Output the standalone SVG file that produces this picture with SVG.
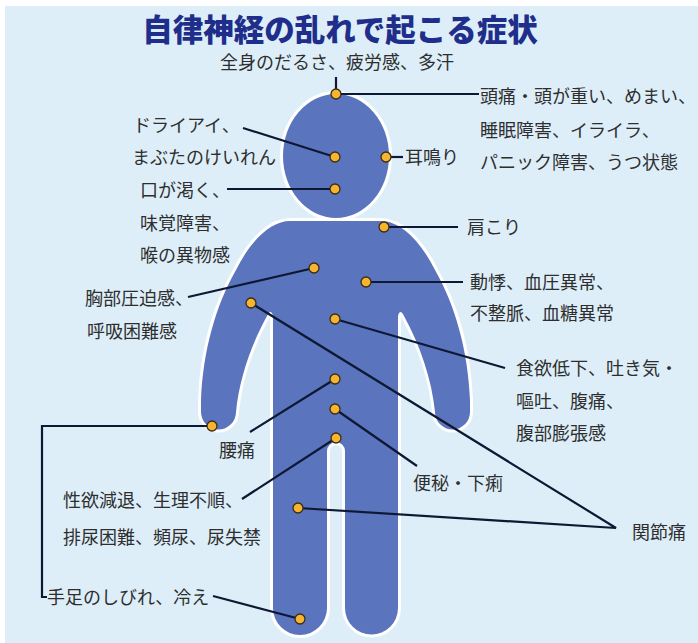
<svg xmlns="http://www.w3.org/2000/svg" width="698" height="643" viewBox="0 0 698 643">
  <style>
    .bg { fill: #ddeef9; }
    .body { fill: #5a74be; stroke: #ffffff; stroke-width: 6; paint-order: stroke; stroke-linejoin: round; }
    .title { font-family: "Noto Sans CJK JP", "Noto Sans", sans-serif; font-size: 30.5px; font-weight: 900; fill: #1f2e8a; }
    .lbl { font-family: "Noto Sans CJK JP", "Noto Sans", sans-serif; font-size: 18px; fill: #2e2e2e; }
    .con { fill: none; stroke: #0e1833; stroke-width: 2.2; stroke-linejoin: miter; }
    .dot { fill: #f6b531; stroke: #3b2c12; stroke-width: 1.3; }
  </style>

  <rect x="0" y="0" width="698" height="643" fill="#ffffff"/>
  <rect class="bg" x="5" y="6" width="693" height="637"/>

  <text class="title" x="340" y="41" text-anchor="middle">自律神経の乱れで起こる症状</text>

  <!-- human silhouette -->
  <g id="figure">
    <path id="torso" class="body" d="M 290,221 L 381,221 C 400,221 420,240 435,270 C 455,305 468,350 470,400 L 470,412 A 17.5,17.5 0 0 1 435,412 C 432,380 420,345 404,316 Q 400,308 398,316 L 398,608 A 26.5,26.5 0 0 1 345,608 L 345,451 A 9,9 0 0 0 327,451 L 327,608 A 27,27 0 0 1 273,608 L 273,316 Q 271,308 267,316 C 251,345 239,380 236,412 A 17.5,17.5 0 0 1 201,412 L 201,400 C 203,350 216,305 236,270 C 251,240 271,221 290,221 Z"/>
    <ellipse id="head" class="body" cx="336" cy="156" rx="53" ry="62"/>
  </g>

  <!-- leader lines -->
  <g id="connectors">
    <path class="con" d="M 336,94 L 336,77"/>
    <path class="con" d="M 336,94 L 479,94"/>
    <path class="con" d="M 335,157 L 243,128"/>
    <path class="con" d="M 386,157 L 403,157"/>
    <path class="con" d="M 335,189 L 227,189"/>
    <path class="con" d="M 384,227 L 458,227"/>
    <path class="con" d="M 314,268 L 188,297"/>
    <path class="con" d="M 366,282 L 463,282"/>
    <path class="con" d="M 335,319 L 505,368"/>
    <path class="con" d="M 251,303 L 616,528 L 298,508"/>
    <path class="con" d="M 335,379 L 250,432"/>
    <path class="con" d="M 335,409 L 417,466"/>
    <path class="con" d="M 336,438 L 242,499"/>
    <path class="con" d="M 212,426 L 42,426 L 42,597 L 47,597"/>
    <path class="con" d="M 213,596 L 300,619"/>
  </g>

  <!-- symptom markers -->
  <g id="markers">
    <circle class="dot" cx="336" cy="94" r="5"/>
    <circle class="dot" cx="335" cy="157" r="5"/>
    <circle class="dot" cx="386" cy="157" r="5"/>
    <circle class="dot" cx="335" cy="189" r="5"/>
    <circle class="dot" cx="384" cy="227" r="5"/>
    <circle class="dot" cx="314" cy="268" r="5"/>
    <circle class="dot" cx="366" cy="282" r="5"/>
    <circle class="dot" cx="251" cy="303" r="5"/>
    <circle class="dot" cx="335" cy="319" r="5"/>
    <circle class="dot" cx="335" cy="379" r="5"/>
    <circle class="dot" cx="335" cy="409" r="5"/>
    <circle class="dot" cx="336" cy="438" r="5"/>
    <circle class="dot" cx="212" cy="426" r="5"/>
    <circle class="dot" cx="298" cy="508" r="5"/>
    <circle class="dot" cx="300" cy="619" r="5"/>
  </g>

  <!-- symptom labels -->
  <g id="n-whole"><text class="lbl" x="337" y="69" text-anchor="middle">全身のだるさ、疲労感、多汗</text></g>
  <g id="n-head">
    <text class="lbl" x="480" y="103">頭痛・頭が重い、めまい、</text>
    <text class="lbl" x="480" y="137">睡眠障害、イライラ、</text>
    <text class="lbl" x="480" y="169">パニック障害、うつ状態</text>
  </g>
  <g id="n-eye">
    <text class="lbl" x="133" y="132">ドライアイ、</text>
    <text class="lbl" x="132" y="164">まぶたのけいれん</text>
  </g>
  <g id="n-ear"><text class="lbl" x="405" y="164">耳鳴り</text></g>
  <g id="n-mouth">
    <text class="lbl" x="140" y="197">口が渇く、</text>
    <text class="lbl" x="140" y="230">味覚障害、</text>
    <text class="lbl" x="140" y="262">喉の異物感</text>
  </g>
  <g id="n-shoulder"><text class="lbl" x="467" y="234">肩こり</text></g>
  <g id="n-chest">
    <text class="lbl" x="85" y="305">胸部圧迫感、</text>
    <text class="lbl" x="87" y="338">呼吸困難感</text>
  </g>
  <g id="n-heart">
    <text class="lbl" x="470" y="289">動悸、血圧異常、</text>
    <text class="lbl" x="470" y="320">不整脈、血糖異常</text>
  </g>
  <g id="n-stomach">
    <text class="lbl" x="516" y="375">食欲低下、吐き気・</text>
    <text class="lbl" x="516" y="408">嘔吐、腹痛、</text>
    <text class="lbl" x="516" y="440">腹部膨張感</text>
  </g>
  <g id="n-back"><text class="lbl" x="219" y="457">腰痛</text></g>
  <g id="n-bowel"><text class="lbl" x="413" y="490">便秘・下痢</text></g>
  <g id="n-pelvis">
    <text class="lbl" x="63" y="507">性欲減退、生理不順、</text>
    <text class="lbl" x="63" y="544">排尿困難、頻尿、尿失禁</text>
  </g>
  <g id="n-joint"><text class="lbl" x="632" y="539">関節痛</text></g>
  <g id="n-limbs"><text class="lbl" x="47" y="604">手足のしびれ、冷え</text></g>
</svg>
